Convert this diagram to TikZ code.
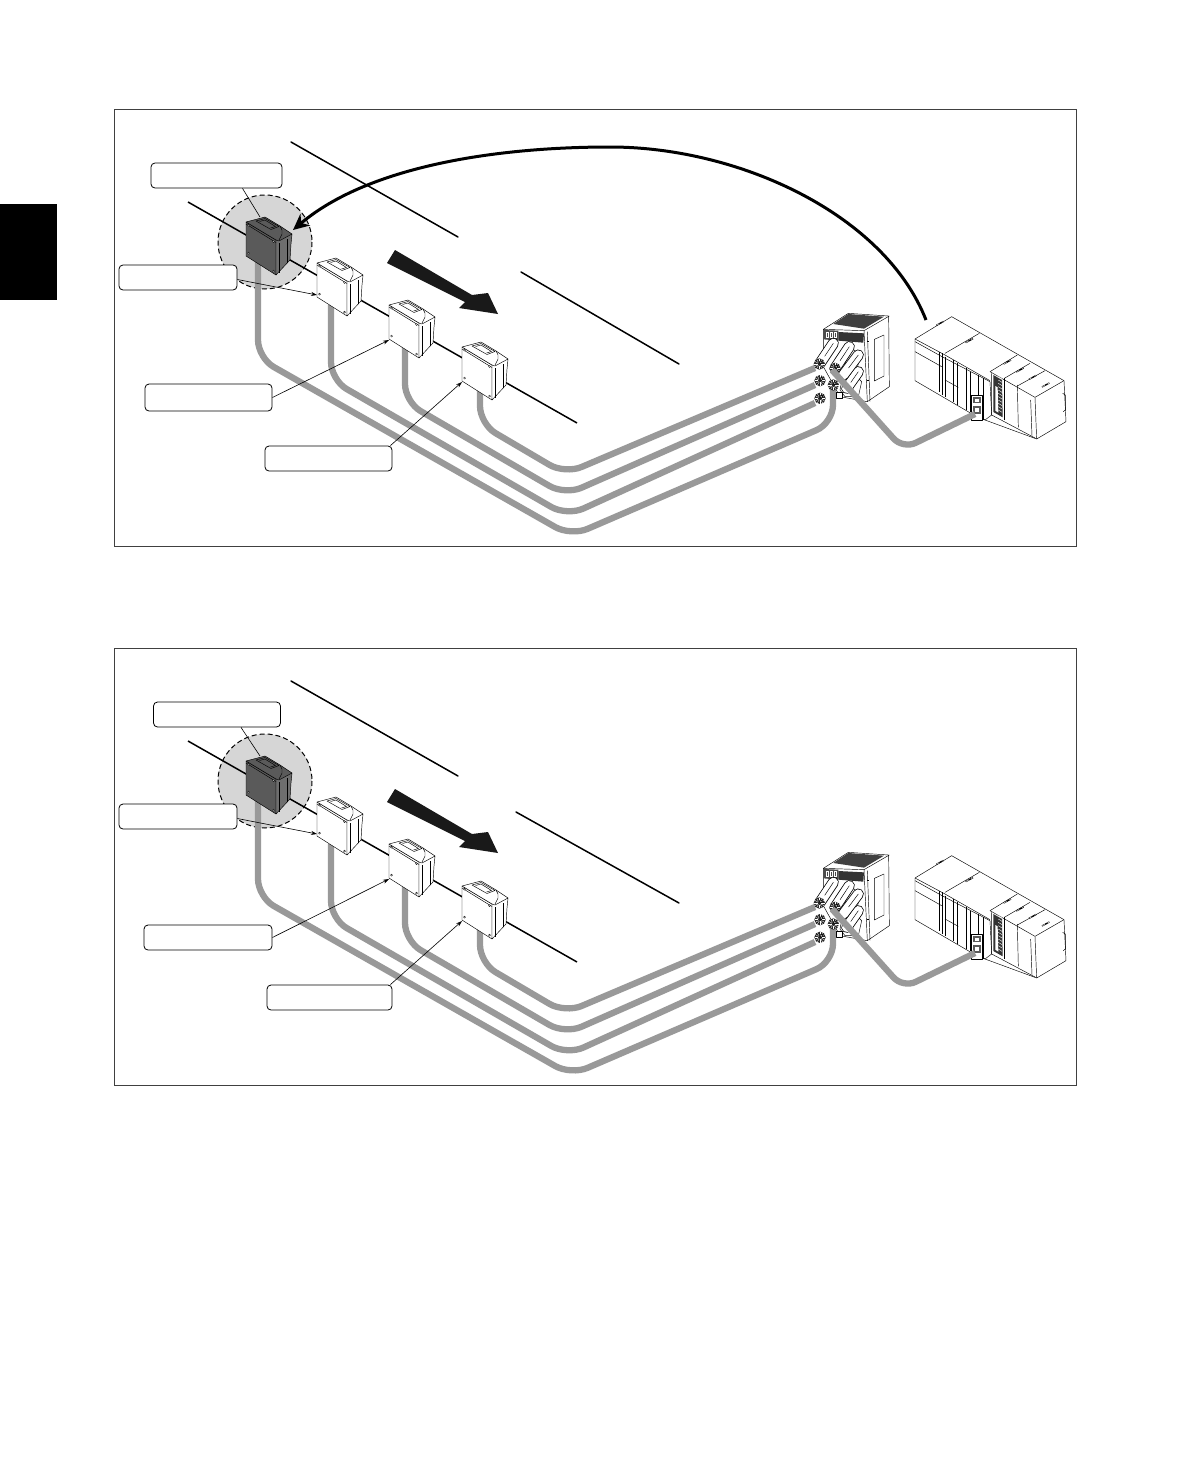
\documentclass[tikz,border=0pt]{standalone}
\usetikzlibrary{arrows.meta,calc}
\definecolor{cablegrey}{HTML}{999999}
\definecolor{haloGrey}{HTML}{D6D6D6}
\definecolor{darkbox}{HTML}{5A5A5A}
\definecolor{darkside}{HTML}{6E6E6E}
\newcommand\connbody[4]{%
  \draw[black,line width=11pt,line cap=round] (#1,#2)--(#3,#4);
  \draw[white,line width=9.4pt,line cap=round] (#1,#2)--(#3,#4);
  \draw[black,line width=0.45pt] ($(#1,#2)!0.35!(#3,#4)$)--($(#1,#2)!1.0!(#3,#4)$);
}
\tikzset{
  panelframe/.style={draw=black!75,line width=0.8pt},
  calloutbox/.style={draw=black,fill=white,rounded corners=4pt,line width=0.8pt,inner sep=0pt},
  leader/.style={draw=black,line width=0.6pt},
  leaderarrow/.style={leader,-{Stealth[length=6pt,width=4pt]}},
  road/.style={draw=black,line width=1.5pt,line cap=round},
  chain/.style={draw=black,line width=1.5pt},
  cable/.style={draw=cablegrey,line width=6.3pt,rounded corners=18pt},
  thin part/.style={draw=black,line width=0.45pt,line join=round},
  sensor/.pic={
    \path[thin part,fill=\sensorfill] (0,0)--(0,34)--(30,53)--(30,18)--cycle;
    \path[thin part,fill=\sensorfill] (0,0)--(19,-5)--(34,4)--(46,12)--(44,15)--(33,21)--(30,18)--cycle;
    \path[thin part,fill=\sensorside] (30,18)--(33,19)--(46,12)--(45,22)--(44,38)--(30,53)--cycle;
    \draw[thin part] (10,-1)--(19,-3.5)--(33,4.5)--(25,7.5)--cycle;
    \draw[thin part] (13.5,-0.5)--(19,-2)--(29.5,4.5)--(24.5,6);
    \draw[thin part] (0,2)--(30,20.5);
    \draw[thin part] (33,21)--(33,50.5);
    \draw[thin part] (34,4)--(36,8)--(36,12)--(33,18);
    \draw[thin part] (41,17)--(41,41);
    \foreach \sx/\sy in {2.5/3,2.5/31,27.5/19.5,27.5/49}{\draw[black,line width=0.35pt,fill=white] (\sx,\sy) circle (1);}
  },
  nutmark/.pic={
    \fill[black!85] (0,0) circle (17);
    \foreach \a in {0,30,...,330}{\draw[white,line width=0.35pt] (\a:5)--(\a:16);}
    \draw[black,line width=0.6pt,fill=black!30] (4,-5) circle (5);
  },
  scene/.pic={
    % halo
    \draw[fill=haloGrey,draw=black,line width=1pt,dash pattern=on 5pt off 3pt] (265,242) circle (47);
    % road centre chain
    \draw[chain] (188,202)--(577,423);
    % cables from sensors
    \draw[cable] (258,262)--(258,358)--(571,536)--(833,423)--(833,385);
    \draw[cable] (331,305)--(331,380)--(567,516)--(815,403);
    \draw[cable] (405,345)--(405,402)--(565,495)--(815,385);
    \draw[cable] (480,388)--(480,424)--(565,474)--(815,368);
    % sensors
    \def\sensorfill{darkbox}\def\sensorside{darkside}
    \pic at (246,222) {sensor};
    \def\sensorfill{white}\def\sensorside{white}
    \pic at (317,263) {sensor};
    \pic at (389,305) {sensor};
    \pic at (462,347) {sensor};
    % block arrow
    \fill[black!90] (395,250)--(472,295)--(488,293)--(498,314)--(459,308)--(465,302)--(387,263)--cycle;
    % controller
    \begin{scope}[shift={(790,300)},x=0.3333pt,y=-0.3333pt]
      \path[thin part,fill=white] (100,88)--(175,40)--(296,48)--(298,260)--(232,305)--(150,290)--(100,200)--cycle;
      \fill[black!75] (130,72)--(175,42)--(282,50)--(222,86)--cycle;
      \draw[thin part] (100,88)--(222,92)--(298,48);
      \draw[thin part] (222,92)--(232,305);
      \draw[thin part] (232,95)--(240,305);
      \draw[thin part] (253,118)--(282,105)--(282,228)--(253,243)--cycle;
      \fill[black!70] (100,90)--(145,92)--(145,122)--(100,118)--cycle;
      \fill[black!80] (145,96)--(222,100)--(220,128)--(145,122)--cycle;
      \foreach \dx in {108,120,132}{\draw[white,line width=0.7pt] (\dx,97) rectangle (\dx+8,112);}
      \draw[thin part] (232,125)--(236,125) (232,240)--(236,240);
      \draw[thin part,fill=white] (175,140)--(208,160)--(200,230)--(215,245)--(205,290)--(165,290)--(150,270)--cycle;
      \connbody{170}{265}{205}{215}
      \connbody{160}{225}{205}{165}
      \connbody{135}{205}{178}{140}
      \connbody{90}{190}{130}{130}
      \pic at (90,295) {nutmark};
      \pic at (90,242) {nutmark};
      \pic at (88,192) {nutmark};
      \pic at (130,255) {nutmark};
      \pic at (135,205) {nutmark};
      \draw[thin part,fill=white] (140,278) rectangle (158,295);
    \end{scope}
    % PLC
    \begin{scope}[shift={(910,310)},x=0.3333pt,y=-0.3333pt]
      \path[thin part,fill=white] (15,87)--(125,20)--(462,212)--(468,335)--(380,387)--(225,330)--(200,320)--(15,212)--cycle;
      \draw[thin part] (15,95)--(96,140)--(240,215)--(245,315)--(225,330)--(190,305);
      \draw[thin part] (15,87)--(105,135)--(240,212);
      \draw[thin part] (105,130)--(208,70);
      \draw[thin part] (240,185)--(322,135);
      \draw[thin part] (240,185)--(375,262)--(462,212);
      \draw[thin part] (283,205)--(360,160);
      \draw[thin part] (322,228)--(405,182);
      \draw[thin part] (375,262)--(380,387);
      \draw[thin part] (362,270)--(366,378);
      \draw[thin part] (322,225)--(325,352);
      \draw[thin part] (283,205)--(283,330);
      \draw[thin part] (245,190)--(245,315)--(375,384);
      \draw[thin part] (15,125)--(95,170) (105,210)--(145,232);
      \foreach \vx/\vt/\vb in {88/125/245,96/130/255,105/140/262,130/150/275,143/160/285,170/175/300,180/185/305,205/195/320,220/205/330}{\draw[thin part] (\vx,\vt)--(\vx,\vb);}
      \draw[thin part] (458,250)--(466,255)--(466,300)--(460,305);
      \fill[black!80] (250,195)--(276,210)--(278,322)--(250,306)--cycle;
      \fill[white] (256,228)--(263,232)--(265,308)--(256,302)--cycle;
      \foreach \yy in {200,210,...,300}{\draw[white,line width=0.4pt] (265,\yy)--(276,\yy+7);}
      \draw[thin part,fill=white] (185,255) rectangle (218,330);
      \fill[black!65] (190,262) rectangle (212,280);
      \fill[white] (196,268) rectangle (206,276);
      \fill[black!65] (190,288) rectangle (214,312);
      \fill[white] (196,294) rectangle (208,306);
      \foreach \bx/\by in {90/40,178/92,292/156,330/180,368/202,407/225}{\draw[black,line width=1.3pt] (\bx-11,\by+6)--(\bx+11,\by-6);\draw[white,line width=0.4pt,dashed] (\bx-10,\by+5.5)--(\bx+10,\by-5.5);}
    \end{scope}
    % PLC cable
    \draw[cable,rounded corners=14pt] (832,370)--(903,449)--(975,414);
  }
}
\begin{document}
\begin{tikzpicture}[x=1pt,y=-1pt]
\useasboundingbox (0,0) rectangle (1190,1457);
\fill[white] (0,0) rectangle (1190,1457);
\fill[black] (0,204) rectangle (57,300);
\draw[panelframe] (114,109) rectangle (1076,546);
\draw[panelframe] (114,648) rectangle (1076,1085);

% ---- panel 1
\draw[road] (291,142)--(458,237);
\draw[road] (521,272)--(679,364);
\pic at (0,0) {scene};
\coordinate (aT1) at (260,217);
\coordinate (aT2) at (317,295);
\coordinate (aT3) at (389,340);
\coordinate (aT4) at (462,382);
\coordinate (aCs) at (926,320);
\coordinate (aCe) at (293,230);
\draw[black,line width=3pt,-{Stealth[length=16pt,width=15pt]}] (aCs) .. controls (885,215) and (740,147) .. (610,147) .. controls (500,147) and (370,165) .. (aCe);
\node[calloutbox,minimum width=131pt,minimum height=25pt] (a1) at (216.5,175.5) {};
\node[calloutbox,minimum width=118pt,minimum height=25pt] (a2) at (178,277.5) {};
\node[calloutbox,minimum width=127pt,minimum height=27pt] (a3) at (208.5,397.5) {};
\node[calloutbox,minimum width=127pt,minimum height=25pt] (a4) at (328.5,458.5) {};
\draw[leader] ([xshift=26pt]a1.south) -- (aT1);
\draw[leaderarrow] ($(a2.east)+(0,2)$) -- (aT2);
\draw[leaderarrow] ($(a3.east)+(0,0)$) -- (aT3);
\draw[leaderarrow] ($(a4.north east)+(-2,0)$) -- (aT4);

% ---- panel 2
\draw[road] (291,681)--(458,776);
\draw[road] (516,812)--(679,903);
\pic at (0,539) {scene};
\coordinate (bT1) at (260,756);
\coordinate (bT2) at (317,834);
\coordinate (bT3) at (389,879);
\coordinate (bT4) at (462,921);
\node[calloutbox,minimum width=127pt,minimum height=25pt] (b1) at (217,714.5) {};
\node[calloutbox,minimum width=118pt,minimum height=25pt] (b2) at (178,816.5) {};
\node[calloutbox,minimum width=128pt,minimum height=25pt] (b3) at (208,937.5) {};
\node[calloutbox,minimum width=125pt,minimum height=25pt] (b4) at (329.5,997.5) {};
\draw[leader] ([xshift=24pt]b1.south) -- (bT1);
\draw[leaderarrow] ($(b2.east)+(0,2)$) -- (bT2);
\draw[leaderarrow] ($(b3.east)+(0,0)$) -- (bT3);
\draw[leaderarrow] ($(b4.north east)+(-2,0)$) -- (bT4);
\end{tikzpicture}
\end{document}
